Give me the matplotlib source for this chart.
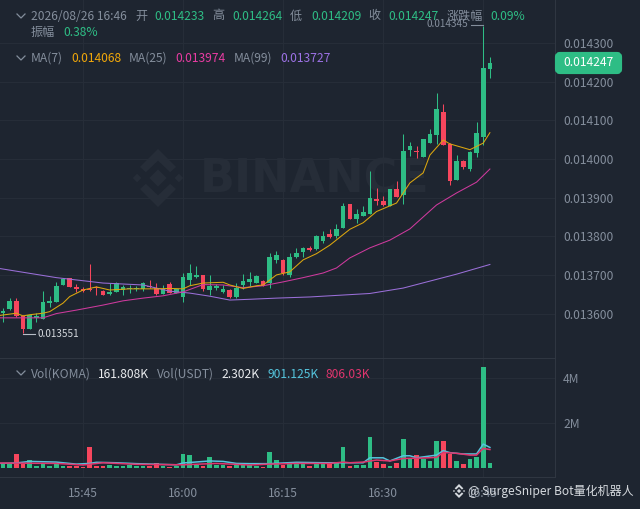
import numpy as np
import matplotlib as mpl
mpl.use('Agg')
import matplotlib.pyplot as plt
from matplotlib.lines import Line2D
from matplotlib.patches import FancyBboxPatch, Polygon
from matplotlib.transforms import Affine2D

plt.rcParams['font.family'] = ['Noto Sans CJK SC', 'DejaVu Sans']

# Candles, one per minute from 15:33, prices in units of 1e-6
opens = [13601, 13612, 13633, 13594, 13561, 13589, 13586, 13627, 13630, 13674,
         13691, 13670, 13663, 13663, 13670, 13659, 13650, 13657, 13661, 13663,
         13663, 13663, 13670, 13665, 13651, 13677, 13654, 13642, 13687, 13694,
         13700, 13661, 13665, 13657, 13661, 13642, 13674, 13682, 13680, 13685,
         13678, 13739, 13739, 13700, 13746, 13760, 13770, 13766, 13789, 13806,
         13801, 13822, 13883, 13845, 13853, 13858, 13896, 13892, 13879, 13922,
         13907, 14023, 14021, 14006, 14042, 14061, 14122, 14039, 13946, 13995,
         13974, 14016, 14058, 14233]
highs = [13614, 13640, 13640, 13596, 13597, 13601, 13658, 13646, 13682, 13692,
         13693, 13677, 13669, 13728, 13671, 13660, 13679, 13681, 13674, 13674,
         13671, 13682, 13687, 13679, 13674, 13682, 13664, 13704, 13727, 13724,
         13701, 13700, 13677, 13674, 13664, 13678, 13702, 13708, 13699, 13686,
         13757, 13762, 13740, 13757, 13769, 13771, 13775, 13802, 13814, 13819,
         13832, 13885, 13884, 13870, 13878, 13969, 13924, 13905, 13923, 13943,
         14065, 14045, 14033, 14052, 14077, 14170, 14142, 14040, 14010, 13997,
         14020, 14096, 14345, 14264]
lows = [13578, 13609, 13592, 13551, 13560, 13578, 13585, 13617, 13629, 13673,
        13669, 13657, 13657, 13659, 13648, 13647, 13648, 13656, 13648, 13652,
        13658, 13659, 13665, 13648, 13650, 13653, 13653, 13631, 13674, 13691,
        13659, 13648, 13661, 13652, 13641, 13641, 13663, 13672, 13679, 13671,
        13665, 13732, 13700, 13695, 13743, 13746, 13763, 13765, 13783, 13796,
        13796, 13821, 13844, 13834, 13852, 13857, 13881, 13879, 13878, 13901,
        13883, 14008, 14003, 14005, 14041, 14038, 14035, 13933, 13945, 13973,
        13970, 14004, 14036, 14209]
closes = [13607, 13633, 13594, 13560, 13596, 13594, 13630, 13633, 13672, 13689,
          13670, 13663, 13659, 13661, 13665, 13648, 13657, 13680, 13668, 13665,
          13665, 13678, 13668, 13651, 13664, 13654, 13663, 13694, 13704, 13700,
          13663, 13671, 13671, 13663, 13642, 13665, 13685, 13689, 13698, 13672,
          13746, 13752, 13704, 13747, 13757, 13770, 13764, 13801, 13801, 13797,
          13819, 13878, 13845, 13857, 13862, 13898, 13891, 13880, 13922, 13902,
          14021, 14034, 14017, 14051, 14065, 14129, 14036, 13944, 13995, 13978,
          14019, 14066, 14234, 14247]
# Volume in millions
volumes = [.15, .15, .59, .15, .34, .07, .18, .07, .18, .07,
           .07, .07, .03, .90, .07, .07, .12, .07, .07, .12,
           .06, .07, .07, .19, .06, .04, .06, .59, .56, .12,
           .07, .49, .12, .12, .07, .12, .12, .12, .07, .03,
           .71, .34, .12, .27, .19, .15, .06, .15, .15, .15,
           .27, .90, .07, .12, .12, 1.35, .27, .16, .07, .22,
           1.26, .41, .56, .37, .31, 1.19, 1.19, .59, .31, .16,
           .37, .46, 4.48, .22]

# Moving averages read at some candles only
ma7_at = [-1, 2, 3, 4, 6, 7, 9, 10, 12, 14, 16, 19, 23, 25, 27, 28, 30, 33, 34, 36,
          38, 39, 41, 43, 45, 47, 49, 52, 54, 56, 59, 61, 63, 64, 66, 67, 70, 72, 73]
ma7 = [13594, 13601, 13594, 13597, 13601, 13605, 13627, 13644, 13661, 13669,
       13661, 13664, 13664, 13665, 13664, 13672, 13679, 13681, 13674, 13665,
       13672, 13674, 13700, 13708, 13739, 13755, 13777, 13818, 13835, 13864,
       13886, 13938, 13964, 14010, 14049, 14039, 14024, 14041, 14068]
ma25_at = [-1, 6, 8, 11, 15, 18, 21, 24, 27, 30, 33, 36, 39, 42, 45, 48, 50, 52, 55,
           58, 61, 65, 68, 71, 73]
ma25 = [13589, 13589, 13600, 13609, 13622, 13633, 13640, 13646, 13656, 13675,
        13674, 13667, 13672, 13682, 13693, 13705, 13718, 13744, 13770, 13790,
        13819, 13881, 13912, 13940, 13974]
ma99_at = [-1, 8, 15, 21, 25, 28, 31, 34, 37, 41, 46, 50, 55, 60, 64, 68, 73]
ma99 = [13718, 13693, 13679, 13674, 13658, 13653, 13645, 13635, 13637, 13640,
        13643, 13647, 13652, 13666, 13684, 13702, 13727]

vol_usdt_at = [-1, 2, 4, 8, 11, 13, 14, 17, 20, 26, 27, 31, 33, 35, 37, 40, 44, 48,
               54, 55, 57, 58, 60, 61, 62, 65, 66, 67, 69, 71, 72, 73]
vol_usdt = [.19, .21, .28, .25, .16, .19, .24, .22, .18, .13, .21, .30, .28, .19, .18,
            .18, .24, .22, .22, .44, .44, .30, .53, .53, .44, .56, .76, .67, .61, .61,
            1.05, .901]
vol_ma_at = [-1, 8, 12, 15, 20, 27, 32, 37, 40, 44, 49, 51, 52, 54, 56, 58, 60, 63, 65,
             66, 68, 70, 71, 72, 73]
vol_ma = [.21, .19, .12, .22, .15, .13, .19, .12, .16, .19, .19, .25, .22, .25, .34,
          .30, .41, .43, .46, .68, .64, .56, .56, .86, .806]

price_ticks = [13600, 13700, 13800, 13900, 14000, 14100, 14200, 14300]
vol_ticks = [2, 4]
vol_labels = ['2M', '4M']
time_at = [12, 27, 42, 57, 72]
time_labels = ['15:45', '16:00', '16:15', '16:30', '16:45']

bg = '#1e2530'
grid = '#262d38'
edge = '#2f3641'
grey = '#848e9c'
green = '#2ebd85'
red = '#f6465d'
white = '#eaecef'
fs = 8.7

fig = plt.figure(figsize=(6.4, 5.09), dpi=100, facecolor=bg)
W, H = 640, 509
# pixel coordinates with the origin top left, for everything that floats over the chart
px = Affine2D().scale(1, -1).translate(0, H)

# axes stay transparent so the watermark shows behind the candles
ax = fig.add_axes([0, 1 - 358 / H, 555 / W, 358 / H], facecolor='none')
ax_vol = fig.add_axes([0, 1 - 477 / H, 555 / W, 119 / H], facecolor='none', sharex=ax)

idx = np.arange(len(opens))
opens, highs, lows, closes = [np.array(a) * 1e-6 for a in (opens, highs, lows, closes)]
colors = [green if c >= o else red for o, c in zip(opens, closes)]

ax.vlines(idx, lows, highs, colors=colors, linewidth=0.75, zorder=3)
ax.bar(idx, np.maximum(np.abs(closes - opens), 3e-6), bottom=np.minimum(opens, closes),
       width=0.7, color=colors, zorder=3)
ax.plot(ma99_at, np.array(ma99) * 1e-6, color='#9a6fd8', linewidth=0.75, zorder=4)
ax.plot(ma25_at, np.array(ma25) * 1e-6, color='#cf3a9e', linewidth=0.75, zorder=4)
ax.plot(ma7_at, np.array(ma7) * 1e-6, color='#dca70f', linewidth=0.75, zorder=4)

ax_vol.bar(idx, volumes, width=0.7, color=colors, zorder=3)
ax_vol.plot(vol_usdt_at, vol_usdt, color='#55c4dc', linewidth=1.1, zorder=4)
ax_vol.plot(vol_ma_at, vol_ma, color='#e0356e', linewidth=1.1, zorder=5)

ax.set_xlim(-0.45, 82.76)
ax.set_ylim(13485.1e-6, 14411.2e-6)
ax_vol.set_ylim(-0.413, 4.876)

ax.set_yticks(np.array(price_ticks) * 1e-6)
ax.set_yticklabels(['0.%06d' % p for p in price_ticks])
ax_vol.set_yticks(vol_ticks)
ax_vol.set_yticklabels(vol_labels)
ax_vol.set_xticks(time_at)
ax_vol.set_xticklabels(time_labels)

for a in (ax, ax_vol):
    a.yaxis.tick_right()
    a.grid(True, color=grid, linewidth=0.8, zorder=0)
    a.set_axisbelow(True)
    a.tick_params(axis='y', length=0, pad=5.8, labelsize=fs, labelcolor=grey)
    a.tick_params(axis='x', length=0, pad=7.5, labelsize=fs, labelcolor=grey)
    for side in a.spines:
        a.spines[side].set_color(edge)
        a.spines[side].set_linewidth(0.8)
    a.spines['left'].set_visible(False)
ax.spines['top'].set_visible(False)
ax.tick_params(axis='x', labelbottom=False)


def logo(cx, cy, r, color, zorder):
    # Diamond mark drawn from five pieces
    pieces = [
        [(0, -.30), (.30, 0), (0, .30), (-.30, 0)],
        [(-.72, -.15), (-.57, 0), (-.72, .15), (-.87, 0)],
        [(.72, -.15), (.87, 0), (.72, .15), (.57, 0)],
        [(0, -1), (.62, -.38), (.42, -.20), (0, -.60), (-.42, -.20), (-.62, -.38)],
        [(0, 1), (.62, .38), (.42, .20), (0, .60), (-.42, .20), (-.62, .38)],
    ]
    for piece in pieces:
        pts = [(cx + r * a, cy + r * b) for a, b in piece]
        fig.add_artist(Polygon(pts, closed=True, facecolor=color, edgecolor='none',
                               transform=px, zorder=zorder))


def label(x, y, s, color=grey, size=fs, **kw):
    fig.text(x, y, s, color=color, fontsize=size, va='center', transform=px, zorder=10, **kw)


def chevron(x, y):
    fig.add_artist(Line2D([x - 4, x, x + 4], [y - 2, y + 2, y - 2], color=grey, linewidth=0.9,
                          transform=px, zorder=10))


# Watermark
logo(158, 178, 29, '#262d38', -1)
fig.text(200, 180, 'BINANCE', color='#262d38', fontsize=33, fontweight='bold', va='center',
         transform=px, zorder=-1, family='DejaVu Sans')

# Header rows
chevron(21, 16)
for x, s, c in [(31, '2026/08/26 16:46', grey), (135, '开', grey), (154.5, '0.014233', green),
                (212.5, '高', grey), (232.5, '0.014264', green), (290, '低', grey),
                (311, '0.014209', green), (368.5, '收', grey), (388.5, '0.014247', green),
                (447, '涨跌幅', grey), (490.5, '0.09%', green)]:
    label(x, 16, s, c)
label(31, 32.5, '振幅')
label(63, 32.5, '0.38%', green)

chevron(21, 58)
for x, s, c in [(31, 'MA(7)', grey), (71, '0.014068', '#f0a70a'), (129, 'MA(25)', grey),
                (175.5, '0.013974', '#e93ca3'), (233.5, 'MA(99)', grey),
                (280, '0.013727', '#9d72e6')]:
    label(x, 58.5, s, c)

chevron(21, 373)
for x, s, c in [(31, 'Vol(KOMA)', grey), (98, '161.808K', white), (157, 'Vol(USDT)', grey),
                (221, '2.302K', white), (267, '901.125K', '#55c4dc'), (326, '806.03K', '#e0356e')]:
    label(x, 374, s, c)

# High and low callouts
label(468, 24, '0.014345', grey, size=7.2, ha='right')
fig.add_artist(Line2D([471, 483], [25, 25], color=grey, linewidth=0.8, transform=px, zorder=10))
label(38, 334, '0.013551', '#d5d9de', size=7.2)
fig.add_artist(Line2D([23, 35], [333.5, 333.5], color='#b7bdc6', linewidth=0.8, transform=px, zorder=10))

# Last price tag
fig.add_artist(FancyBboxPatch((557, 54), 63, 18, boxstyle='round,pad=0,rounding_size=3',
                              mutation_aspect=1, facecolor=green, edgecolor=green, linewidth=3,
                              transform=px, zorder=9))
label(589, 62.5, '0.014247', 'white', ha='center')

# Bot credit over the time axis
logo(459, 491, 7, '#d5d9de', 11)
fig.text(468, 491.5, '@ SurgeSniper Bot量化机器人', color='#d5d9de', fontsize=8.65, va='center',
         transform=px, zorder=11)

plt.savefig('out.png', dpi=100, facecolor=bg)
plt.close()
